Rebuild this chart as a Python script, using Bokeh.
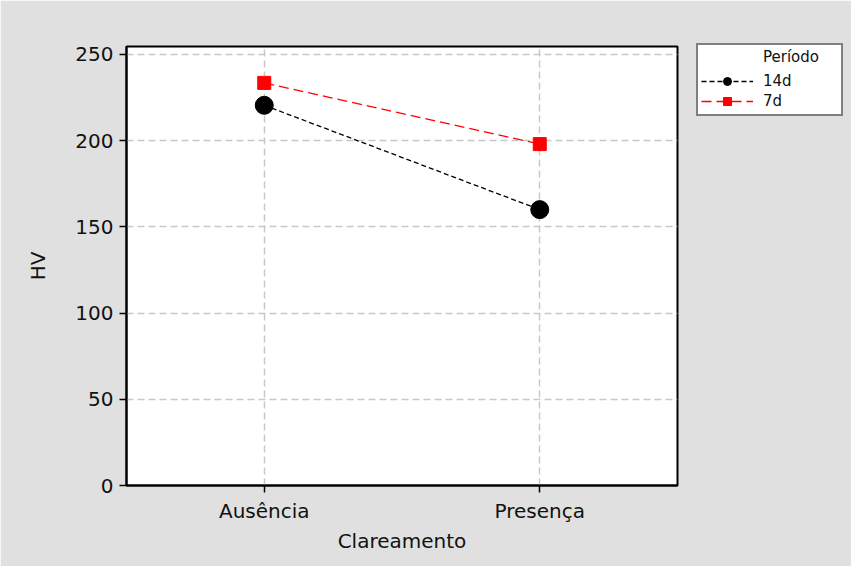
from bokeh.plotting import figure
from bokeh.models import Legend, LegendItem, FixedTicker, Range1d
from bokeh.embed import file_html
from bokeh.resources import INLINE

categories = ["Ausência", "Presença"]
x_pos = [1, 2]
hv_14d = [220.5, 160.0]
hv_7d = [233.5, 198.0]
y_ticks = [0, 50, 100, 150, 200, 250]

FONT = "DejaVu Sans"

p = figure(frame_width=551, frame_height=439, output_backend="svg", toolbar_location=None,
           x_range=Range1d(0.5, 2.5), y_range=Range1d(0, 254.6),
           min_border_left=126, min_border_right=166, min_border_top=46, min_border_bottom=81)
p.border_fill_color = "#e0e0e0"
p.background_fill_color = "white"
p.outline_line_color = "black"
p.outline_line_width = 2

# grids
for g in (p.xgrid, p.ygrid):
    g.grid_line_color = "#c8c8c8"
    g.grid_line_width = 1.5
    g.grid_line_dash = "7 4"
p.xgrid.ticker = FixedTicker(ticks=x_pos)
p.ygrid.ticker = FixedTicker(ticks=y_ticks)

# axes
p.xaxis.ticker = FixedTicker(ticks=x_pos)
p.xaxis.major_label_overrides = {1: categories[0], 2: categories[1]}
p.yaxis.ticker = FixedTicker(ticks=y_ticks)
for ax in (p.xaxis[0], p.yaxis[0]):
    ax.axis_line_color = "black"
    ax.axis_line_width = 2
    ax.major_tick_line_color = "black"
    ax.major_tick_line_width = 1.5
    ax.major_tick_out = 7
    ax.major_tick_in = 0
    ax.minor_tick_line_color = None
    ax.major_label_text_font = FONT
    ax.major_label_text_font_size = "20px"
    ax.major_label_text_color = "#111111"
    ax.axis_label_text_font = FONT
    ax.axis_label_text_font_size = "20px"
    ax.axis_label_text_font_style = "normal"
    ax.axis_label_text_color = "#111111"
p.xaxis.axis_label = "Clareamento"
p.yaxis.axis_label = "HV"
p.xaxis.major_label_standoff = 6
p.yaxis.major_label_standoff = 6
p.xaxis.axis_label_standoff = 3
p.yaxis.axis_label_standoff = 22

l14 = p.line(x_pos, hv_14d, line_color="black", line_width=1.3, line_dash="5 3")
s14 = p.scatter(x_pos, hv_14d, marker="circle", size=18, fill_color="black", line_color="black")
l7 = p.line(x_pos, hv_7d, line_color="red", line_width=1.3, line_dash="10 5")
s7 = p.scatter(x_pos, hv_7d, marker="square", size=13, fill_color="red", line_color="red")

legend = Legend(items=[LegendItem(label="14d", renderers=[l14, s14]),
                       LegendItem(label="7d", renderers=[l7, s7])],
                location=(19, 369),
                title="\u2007\u2007\u2007\u2007\u2007\u2007\u2008Período",
                title_text_font=FONT, title_text_font_size="15px",
                title_text_font_style="normal", title_text_color="#111111",
                title_standoff=5,
                label_text_font=FONT, label_text_font_size="15px", label_text_color="#111111",
                glyph_width=52, glyph_height=20, label_height=20, label_width=75,
                label_standoff=10, padding=3, spacing=0, margin=0,
                border_line_color="black", border_line_width=2,
                background_fill_color="white", background_fill_alpha=1)
p.add_layout(legend, "right")

open("out.html", "w").write(file_html(p, INLINE))
